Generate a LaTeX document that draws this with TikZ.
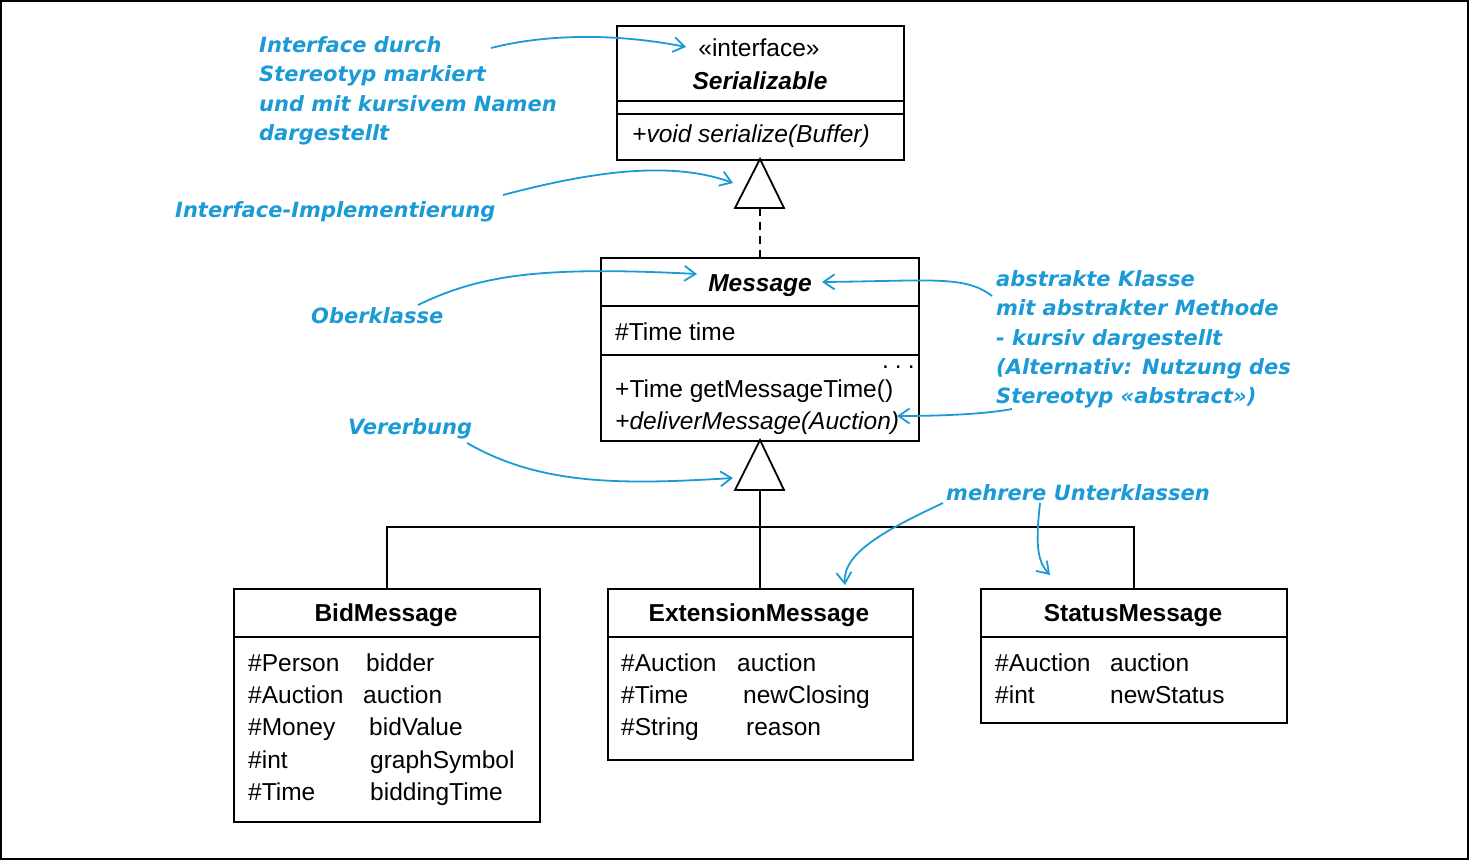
\documentclass[tikz,border=0pt]{standalone}
\usepackage{fontspec}
\setmainfont{Liberation Sans}
\newfontfamily\annfont{DejaVu Sans}
\usetikzlibrary{arrows.meta}
\definecolor{annot}{RGB}{27,154,214}
\begin{document}
\begin{tikzpicture}[x=1pt,y=-1pt,
  umlbox/.style={draw, line width=1.8pt, inner sep=0, anchor=north west},
  mtxt/.style={inner sep=0, anchor=base west, font=\fontsize{24.5}{28}\selectfont},
  ctxt/.style={inner sep=0, anchor=base, font=\fontsize{24.5}{28}\selectfont},
  ann/.style={inner sep=0, anchor=base west, text=annot, font=\annfont\bfseries\itshape\fontsize{21}{28}\selectfont},
  note/.style={draw=annot, line width=1.8pt, -{Straight Barb[length=11pt,width=15pt]}},
  rel/.style={line width=1.8pt},
  sep/.style={line width=1.8pt}]
\useasboundingbox (0,0) rectangle (1470,861);
\draw[line width=2pt] (1,1) rectangle (1468,859);

% Serializable
\node[umlbox, minimum width=287pt, minimum height=134pt] (ser) at (616,25) {};
\draw[sep] (616,101) -- (903,101);
\draw[sep] (616,114) -- (903,114);
\node[ctxt] (serst) at (759,57) {«interface»};
\node[ctxt, font=\fontsize{24.5}{28}\selectfont\bfseries\itshape] (sername) at (760,90) {Serializable};
\node[mtxt, font=\fontsize{24.5}{28}\selectfont\itshape] (serop) at (632,143) {+void serialize(Buffer)};

% Message
\node[umlbox, minimum width=318pt, minimum height=183pt] (msg) at (600,257) {};
\draw[sep] (600,306) -- (918,306);
\draw[sep] (600,355) -- (918,355);
\node[ctxt, font=\fontsize{24.5}{28}\selectfont\bfseries\itshape] (msgname) at (760,291) {Message};
\node[mtxt] (msgattr) at (615,340) {\#Time time};
\node[mtxt] (msgdots) at (882,368) {.\hspace{6pt}.\hspace{6pt}.};
\node[mtxt] (msgop1) at (615,397) {+Time getMessageTime()};
\node[mtxt, font=\fontsize{24.5}{28}\selectfont\itshape] (msgop2) at (615,429) {+deliverMessage(Auction)};

% realization
\coordinate (t1a) at (760,159);
\coordinate (t1b) at (760,208);
\draw[rel, fill=white, line join=miter] (t1a) -- (784,208) -- (735,208) -- cycle;
\draw[rel, dash pattern=on 8pt off 6pt] (t1b) -- (t1b |- msg.north);

% BidMessage
\node[umlbox, minimum width=306pt, minimum height=233pt] (bid) at (233,588) {};
\draw[sep] (233,637) -- (539,637);
\node[ctxt, font=\fontsize{24.5}{28}\selectfont\bfseries] (bidname) at (386,621) {BidMessage};
\node[mtxt] (b1a) at (248,671) {\#Person};
\node[mtxt] (b1b) at (366,671) {bidder};
\node[mtxt] (b2a) at (248,703) {\#Auction};
\node[mtxt] (b2b) at (363,703) {auction};
\node[mtxt] (b3a) at (248,735) {\#Money};
\node[mtxt] (b3b) at (369,735) {bidValue};
\node[mtxt] (b4a) at (248,768) {\#int};
\node[mtxt] (b4b) at (370,768) {graphSymbol};
\node[mtxt] (b5a) at (248,800) {\#Time};
\node[mtxt] (b5b) at (370,800) {biddingTime};

% ExtensionMessage
\node[umlbox, minimum width=305pt, minimum height=171pt] (ext) at (607,588) {};
\draw[sep] (607,637) -- (912,637);
\node[ctxt, font=\fontsize{24.5}{28}\selectfont\bfseries] (extname) at (759,621) {ExtensionMessage};
\node[mtxt] (e1a) at (621,671) {\#Auction};
\node[mtxt] (e1b) at (737,671) {auction};
\node[mtxt] (e2a) at (621,703) {\#Time};
\node[mtxt] (e2b) at (743,703) {newClosing};
\node[mtxt] (e3a) at (621,735) {\#String};
\node[mtxt] (e3b) at (746,735) {reason};

% StatusMessage
\node[umlbox, minimum width=306pt, minimum height=134pt] (stat) at (980,588) {};
\draw[sep] (980,637) -- (1286,637);
\node[ctxt, font=\fontsize{24.5}{28}\selectfont\bfseries] (statname) at (1133,621) {StatusMessage};
\node[mtxt] (s1a) at (995,671) {\#Auction};
\node[mtxt] (s1b) at (1110,671) {auction};
\node[mtxt] (s2a) at (995,703) {\#int};
\node[mtxt] (s2b) at (1110,703) {newStatus};

% generalization
\coordinate (t2a) at (760,440);
\coordinate (t2b) at (760,490);
\draw[rel] (t2b) -- (t2b |- ext.north);
\draw[rel] (bid.north) -- ++(0,-61) -| (stat.north);
\draw[rel, fill=white, line join=miter] (t2a) -- (784,490) -- (735,490) -- cycle;

% annotations
\node[ann] (a1) at (259,53) {Interface durch};
\node[ann] (a2) at (259,82) {Stereotyp markiert};
\node[ann] (a3) at (259,112) {und mit kursivem Namen};
\node[ann] (a4) at (259,141) {dargestellt};
\node[ann] (b1) at (175,218) {Interface-Implementierung};
\node[ann] (c1) at (311,323) {Oberklasse};
\node[ann] (d1) at (996,286) {abstrakte Klasse};
\node[ann] (d2) at (996,315) {mit abstrakter Methode};
\node[ann] (d3) at (996,345) {- kursiv dargestellt};
\node[ann] (d4) at (996,374) {(Alternativ: Nutzung des};
\node[ann] (d5) at (996,403) {Stereotyp «abstract»)};
\node[ann] (e1) at (348,434) {Vererbung};
\node[ann] (f1) at (946,500) {mehrere Unterklassen};

\coordinate (p1s) at (491,48);   \coordinate (p1e) at (686,47);
\coordinate (p2s) at (503,195);  \coordinate (p2e) at (733,183);
\coordinate (p3s) at (418,305);  \coordinate (p3e) at (697,274);
\coordinate (p4s) at (992,296);  \coordinate (p4e) at (822,282);
\coordinate (p5s) at (1012,409); \coordinate (p5e) at (897,416);
\coordinate (p6s) at (467,443);  \coordinate (p6e) at (733,478);
\coordinate (p7s) at (943,503);  \coordinate (p7e) at (845,585);
\coordinate (p8s) at (1040,503); \coordinate (p8e) at (1050,575);

\draw[note] (p1s) .. controls (550,33) and (620,34) .. (p1e);
\draw[note] (p2s) .. controls (590,172) and (670,160) .. (p2e);
\draw[note] (p3s) .. controls (480,275) and (540,266) .. (p3e);
\draw[note] (p4s) .. controls (965,275) and (930,281) .. (p4e);
\draw[note] (p5s) .. controls (980,415) and (930,416) .. (p5e);
\draw[note] (p6s) .. controls (540,485) and (620,485) .. (p6e);
\draw[note] (p7s) .. controls (890,528) and (842,552) .. (p7e);
\draw[note] (p8s) .. controls (1036,540) and (1036,560) .. (p8e);
\end{tikzpicture}
\end{document}
